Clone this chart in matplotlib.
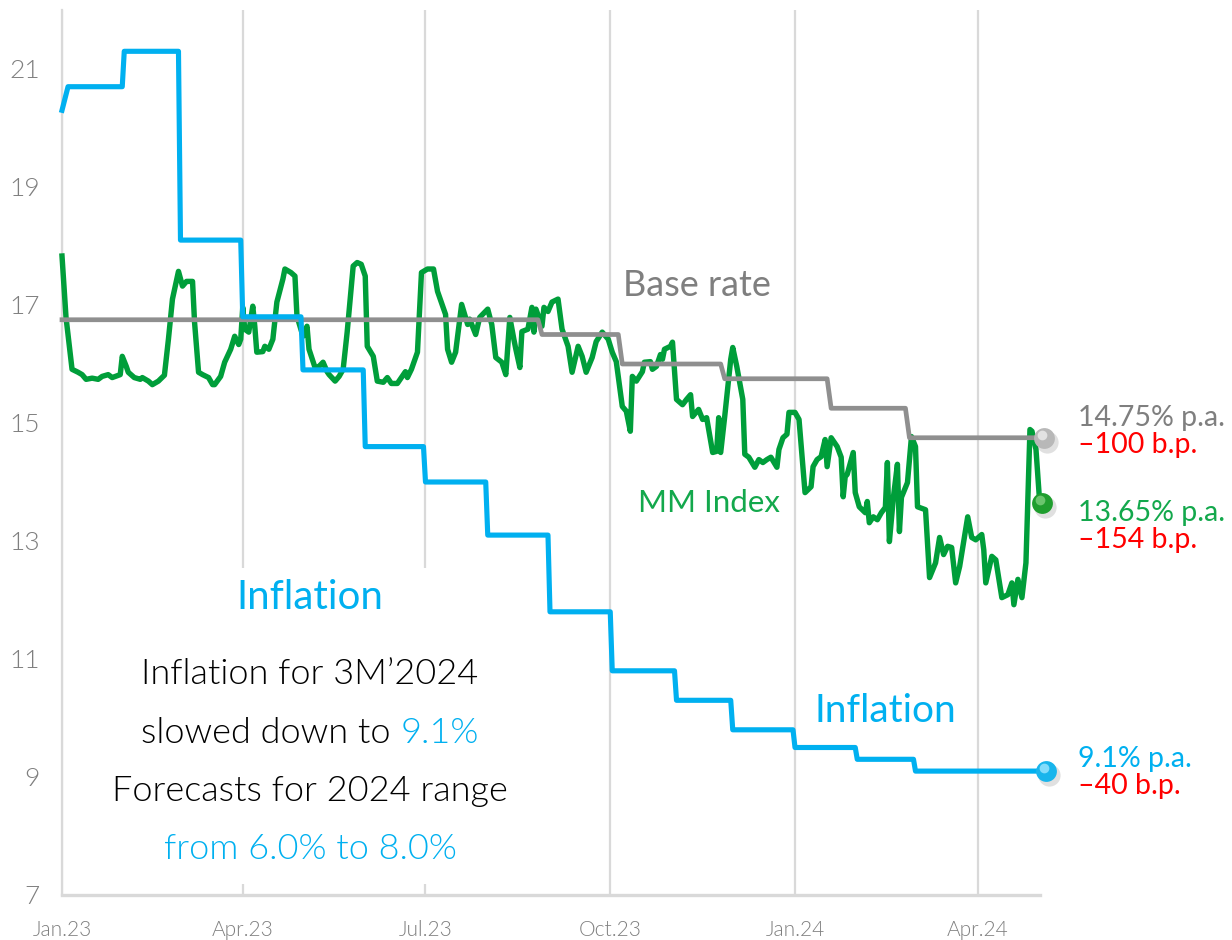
import numpy as np
import pandas as pd
import matplotlib.pyplot as plt
import matplotlib.dates as mdates
from matplotlib.transforms import offset_copy

plt.rcParams['font.family'] = ['Lato', 'DejaVu Sans']

START = pd.Timestamp('2023-01-01')

# Inflation, % y/y (value holds from the given date)
infl_dates = ['2023-01-01', '2023-01-04', '2023-02-01', '2023-03-01', '2023-04-01',
              '2023-05-01', '2023-06-01', '2023-07-01', '2023-08-01', '2023-09-01',
              '2023-10-02', '2023-11-03', '2023-12-01', '2024-01-01', '2024-02-01',
              '2024-03-01']
infl_values = [20.3, 20.7, 21.3, 18.1, 16.8, 15.9, 14.6, 14.0, 13.1, 11.8,
               10.8, 10.3, 9.8, 9.5, 9.3, 9.1]
infl_end = '2024-05-05'

# Base rate, %
base_dates = ['2023-01-01', '2023-08-28', '2023-10-07', '2023-11-27', '2024-01-19', '2024-02-27']
base_values = [16.75, 16.5, 16.0, 15.75, 15.25, 14.75]
base_end = '2024-05-04'

# MM Index, days since 1 Jan 2023
mm_day = [0, 2, 5, 8, 10, 12, 15, 18, 20, 23, 25, 29, 30, 32, 33, 36, 39, 40, 43, 45,
          48, 51, 53, 55, 58, 60, 62, 65, 66, 68, 70, 73, 75, 76, 79, 81, 84, 86, 88, 89,
          90, 91, 93, 95, 96, 97, 100, 101, 103, 105, 107, 110, 111, 114, 116, 117, 120, 122, 123, 126,
          128, 130, 132, 133, 136, 138, 140, 142, 145, 147, 149, 151, 152, 155, 157, 160, 162, 164, 167, 169,
          171, 172, 174, 177, 179, 182, 185, 187, 191, 192, 194, 196, 199, 202, 203, 206, 208, 212, 214, 216,
          219, 221, 223, 225, 226, 228, 229, 232, 234, 235, 236, 239, 240, 242, 244, 247, 249, 252, 254, 257,
          259, 261, 264, 266, 269, 272, 274, 276, 279, 281, 283, 284, 286, 289, 290, 293, 294, 296, 298, 299,
          300, 303, 304, 306, 309, 311, 313, 314, 317, 319, 321, 324, 326, 327, 328, 330, 333, 334, 336, 339,
          340, 342, 345, 347, 349, 351, 353, 356, 357, 359, 361, 362, 365, 367, 370, 373, 374, 376, 378, 380,
          381, 383, 386, 388, 389, 390, 391, 394, 395, 397, 400, 401, 402, 404, 406, 408, 410, 411, 412, 414,
          416, 417, 418, 421, 423, 425, 426, 430, 432, 435, 437, 439, 441, 443, 445, 447, 451, 453, 455, 458,
          459, 460, 463, 465, 468, 471, 473, 474, 476, 478, 480, 482, 483, 485, 487, 488]
mm_value = [17.83, 16.79, 15.91, 15.86, 15.82, 15.74, 15.76, 15.74, 15.79, 15.82, 15.77, 15.82, 16.13, 15.96, 15.86, 15.77, 15.74, 15.77, 15.71, 15.65,
            15.71, 15.81, 16.42, 17.10, 17.57, 17.32, 17.40, 17.40, 16.71, 15.86, 15.82, 15.77, 15.65, 15.65, 15.79, 16.03, 16.25, 16.47, 16.33, 16.42,
            16.96, 16.59, 16.54, 16.98, 16.64, 16.20, 16.21, 16.30, 16.25, 16.42, 17.05, 17.44, 17.61, 17.55, 17.49, 16.81, 16.47, 16.64, 16.25, 15.94,
            15.96, 16.03, 15.87, 15.82, 15.71, 15.79, 15.91, 16.54, 17.66, 17.72, 17.69, 17.49, 16.30, 16.13, 15.71, 15.69, 15.77, 15.67, 15.67, 15.77,
            15.87, 15.77, 15.91, 16.20, 17.55, 17.61, 17.61, 17.23, 16.84, 16.25, 16.03, 16.20, 17.01, 16.67, 16.76, 16.50, 16.79, 16.93, 16.67, 16.11,
            16.03, 15.82, 16.79, 16.42, 16.25, 15.94, 16.55, 16.59, 16.96, 16.54, 16.93, 16.64, 16.96, 16.89, 17.05, 17.10, 16.59, 16.30, 15.86, 16.30,
            16.13, 15.86, 16.11, 16.38, 16.54, 16.42, 16.20, 16.04, 15.28, 15.20, 14.86, 15.79, 15.71, 15.87, 16.03, 16.04, 15.91, 15.96, 16.16, 16.08,
            16.25, 16.30, 16.37, 15.40, 15.31, 15.40, 15.48, 15.11, 15.23, 15.06, 15.09, 14.50, 14.52, 15.09, 14.50, 15.11, 16.08, 16.28, 15.96, 15.40,
            14.47, 14.42, 14.25, 14.38, 14.33, 14.38, 14.42, 14.25, 14.55, 14.75, 14.81, 15.18, 15.18, 15.06, 13.82, 13.92, 14.26, 14.38, 14.43, 14.72,
            14.26, 14.75, 14.60, 14.42, 13.75, 14.09, 14.13, 14.50, 13.82, 13.58, 13.48, 13.67, 13.31, 13.41, 13.36, 13.48, 13.57, 14.33, 12.99, 13.74,
            14.30, 13.16, 13.74, 13.99, 14.77, 14.60, 13.58, 13.53, 12.38, 12.63, 13.06, 12.77, 12.91, 12.89, 12.29, 12.57, 13.41, 13.06, 13.02, 13.11,
            12.85, 12.29, 12.74, 12.68, 12.04, 12.09, 12.29, 11.92, 12.35, 12.04, 12.63, 14.89, 14.86, 14.55, 13.58, 13.65]

tick_dates = ['2023-01-01', '2023-04-01', '2023-07-01', '2023-10-01', '2024-01-01', '2024-04-01']
tick_labels = ['Jan.23', 'Apr.23', 'Jul.23', 'Oct.23', 'Jan.24', 'Apr.24']

BLUE = '#00B0F0'
GREEN = '#009E3A'
GREEN_TXT = '#13A84C'
GRAY = '#8F8F8F'
GRAY_TXT = '#7F7F7F'
RED = '#FF0000'


def step_series(dates, values, end, ramp_days, ramp_first=False):
    d = pd.to_datetime(dates)
    xs, ys = [], []
    for i in range(len(d)):
        xs.append(d[i])
        ys.append(values[i])
        nxt = d[i + 1] - pd.Timedelta(days=ramp_days) if i + 1 < len(d) else pd.Timestamp(end)
        xs.append(nxt)
        ys.append(values[i])
    if ramp_first:
        # opening move is a gentle ramp rather than a step
        xs, ys = xs[:1] + xs[2:], ys[:1] + ys[2:]
    return xs, ys


def sphere(ax, x, y, color, light):
    fig = ax.figure
    sh = offset_copy(ax.transData, fig, x=3, y=-4, units='dots')
    ax.plot([x], [y], 'o', ms=16, color='black', alpha=0.12, mec='none', transform=sh, clip_on=False, zorder=6)
    ax.plot([x], [y], 'o', ms=15, color=color, mec='none', clip_on=False, zorder=7)
    hl = offset_copy(ax.transData, fig, x=-2, y=3, units='dots')
    ax.plot([x], [y], 'o', ms=7, color=light, alpha=0.8, mec='none', transform=hl, clip_on=False, zorder=8)


def centered_line(ax, x, y, pieces, **kw):
    # draw several coloured pieces as one line centred on (x, y)
    r = ax.figure.canvas.get_renderer()
    full = ''.join(s for s, _ in pieces)
    probe = ax.text(x, y, full, **kw)
    total = probe.get_window_extent(r).width
    probe.remove()
    left = -total / 2
    prefix = ''
    for s, c in pieces:
        if prefix:
            p = ax.text(x, y, prefix, **kw)
            w = p.get_window_extent(r).width
            p.remove()
        else:
            w = 0
        ax.annotate(s, xy=(x, y), xytext=((left + w) * 72 / 100, 0), textcoords='offset points',
                    ha='left', va='center', color=c, **kw)
        prefix += s


fig = plt.figure(figsize=(12.32, 9.4), dpi=100)
ax = fig.add_axes([62 / 1232, 45 / 940, (1040 - 62) / 1232, (895 - 10) / 940])

mm_dates = [START + pd.Timedelta(days=d) for d in mm_day]
bx, by = step_series(base_dates, base_values, base_end, 2)
ix, iy = step_series(infl_dates, infl_values, infl_end, 1, ramp_first=True)

ax.plot(mm_dates, mm_value, color=GREEN, lw=3.9, solid_joinstyle='round', clip_on=False, zorder=3)
ax.plot(bx, by, color=GRAY, lw=3.4, clip_on=False, zorder=4)
ax.plot(ix, iy, color=BLUE, lw=3.7, clip_on=False, zorder=5)

sphere(ax, bx[-1], by[-1], '#B8B8B8', '#EDEDED')
sphere(ax, mm_dates[-1], mm_value[-1], '#1F9E2E', '#7FD07F')
sphere(ax, ix[-1], iy[-1], '#19B5EC', '#9EE6FF')

ax.set_xlim(START, START + pd.Timedelta(days=487))
ax.set_ylim(7, 22)
ax.set_yticks(range(7, 22, 2))
ax.set_xticks(pd.to_datetime(tick_dates))
ax.set_xticklabels(tick_labels)
ax.tick_params(axis='both', length=0, labelcolor=GRAY_TXT)
ax.tick_params(axis='y', pad=16, labelsize=19)
ax.tick_params(axis='x', pad=18, labelsize=15)
for lab in ax.get_xticklabels() + ax.get_yticklabels():
    lab.set_fontweight(300)

ax.grid(axis='x', color='#D9D9D9', lw=1.6, zorder=0)
ax.set_axisbelow(True)
for s in ['top', 'right']:
    ax.spines[s].set_visible(False)
ax.spines['left'].set_color('#D9D9D9')
ax.spines['left'].set_linewidth(1.6)
ax.spines['bottom'].set_color('#D9D9D9')
ax.spines['bottom'].set_linewidth(2.4)

# white panel behind the commentary
ax.fill_between([START + pd.Timedelta(days=19), START + pd.Timedelta(days=228)], 7.19, 12.55,
                color='white', lw=0, zorder=1)

ax.text(START + pd.Timedelta(days=316), 17.33, 'Base rate', color=GRAY_TXT, fontsize=26,
        ha='center', va='center')
ax.text(START + pd.Timedelta(days=322), 13.65, 'MM Index', color=GREEN_TXT, fontsize=22.5,
        ha='center', va='center')
ax.text(START + pd.Timedelta(days=410), 10.12, 'Inflation', color=BLUE, fontsize=28,
        ha='center', va='center')

cx = START + pd.Timedelta(days=123.5)
ax.text(cx, 12.04, 'Inflation', color=BLUE, fontsize=29, ha='center', va='center', zorder=2)
note = dict(fontsize=26, fontweight=300, zorder=2)
centered_line(ax, cx, 10.75, [('Inflation for 3M\u20192024', 'black')], **note)
centered_line(ax, cx, 9.75, [('slowed down to ', 'black'), ('9.1%', BLUE)], **note)
centered_line(ax, cx, 8.76, [('Forecasts for 2024 range', 'black')], **note)
centered_line(ax, cx, 7.78, [('from 6.0% to 8.0%', BLUE)], **note)

lx = START + pd.Timedelta(days=506)
side = dict(fontsize=20.5, ha='left', va='center', clip_on=False)
ax.text(lx, 15.09, '14.75% p.a.', color=GRAY_TXT, **side)
ax.text(lx, 14.62, '\u2013100 b.p.', color=RED, **side)
ax.text(lx, 13.48, '13.65% p.a.', color=GREEN_TXT, **side)
ax.text(lx, 13.01, '\u2013154 b.p.', color=RED, **side)
ax.text(lx, 9.31, '9.1% p.a.', color=BLUE, **side)
ax.text(lx, 8.85, '\u201340 b.p.', color=RED, **side)

fig.savefig('out.png', dpi=100)
